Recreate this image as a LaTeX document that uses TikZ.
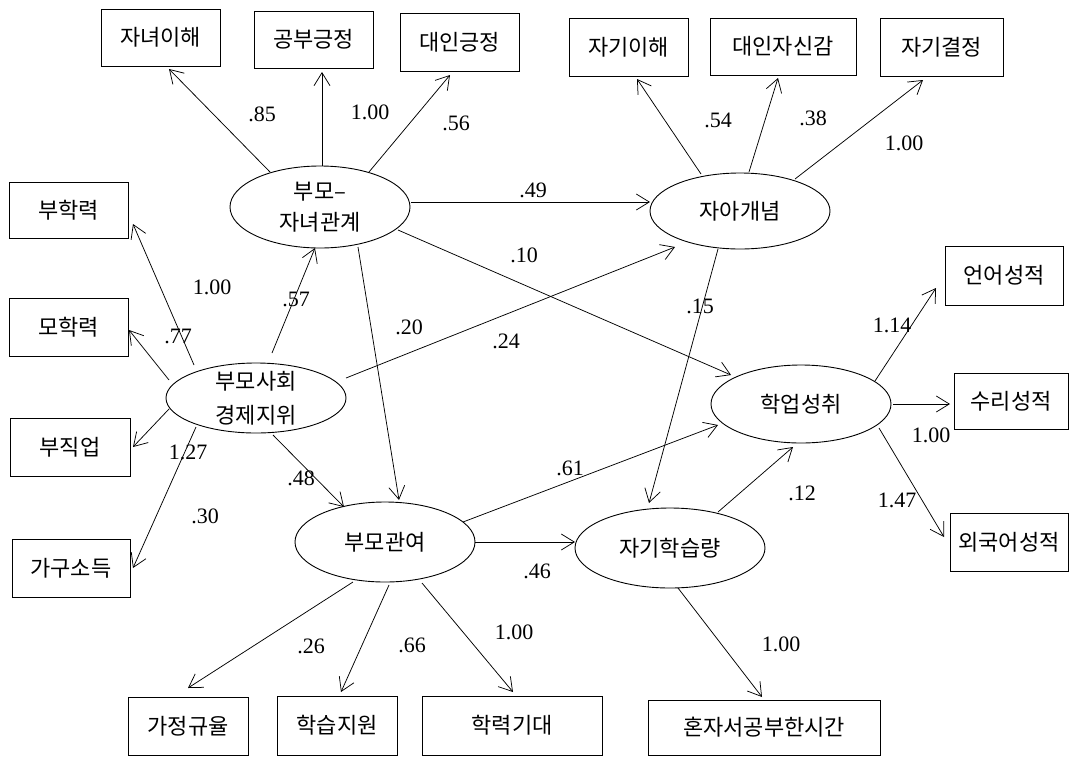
\documentclass[tikz,border=0pt]{standalone}
\usepackage{fontspec}
\setmainfont{Liberation Serif}
\newfontfamily\kr{Noto Sans CJK KR}
\usetikzlibrary{arrows.meta,shapes.geometric,calc}
\begin{document}
\begin{tikzpicture}[x=1pt,y=-1pt,
  box/.style={draw, line width=1pt, rectangle, inner sep=0pt, font=\kr\fontsize{22}{26}\selectfont},
  lat/.style={draw, line width=0.9pt, ellipse, inner sep=-7pt, font=\kr\fontsize{22}{31}\selectfont, align=center},
  arr/.style={line width=0.75pt, -{Straight Barb[length=13pt,width=16pt]}},
  coef/.style={font=\fontsize{22}{25}\selectfont, inner sep=0pt}]
\fill[white] (0,0) rectangle (1069,756);
\useasboundingbox (0,0) rectangle (1069,756);

% indicator boxes
\node[box, minimum width=119, minimum height=57] (b1) at (160.5,37.5) {자녀이해};
\node[box, minimum width=119, minimum height=57] (b2) at (313.5,39.5) {공부긍정};
\node[box, minimum width=119, minimum height=58] (b3) at (459.5,42) {대인긍정};
\node[box, minimum width=119, minimum height=58] (b4) at (628.5,47) {자기이해};
\node[box, minimum width=146, minimum height=57] (b5) at (783,46.5) {대인자신감};
\node[box, minimum width=123, minimum height=58] (b6) at (941.5,47) {자기결정};
\node[box, minimum width=119, minimum height=56] (b7) at (68.5,210) {부학력};
\node[box, minimum width=119, minimum height=58] (b8) at (68.5,327) {모학력};
\node[box, minimum width=120, minimum height=58] (b9) at (70,447) {부직업};
\node[box, minimum width=118, minimum height=58] (b10) at (71,568) {가구소득};
\node[box, minimum width=120, minimum height=58] (b11) at (188,726) {가정규율};
\node[box, minimum width=120, minimum height=59] (b12) at (337,725.5) {학습지원};
\node[box, minimum width=180, minimum height=59] (b13) at (512,725.5) {학력기대};
\node[box, minimum width=232, minimum height=55] (b14) at (764,727.5) {혼자서공부한시간};
\node[box, minimum width=118, minimum height=58] (b15) at (1009,542) {외국어성적};
\node[box, minimum width=114, minimum height=56] (b16) at (1011,401) {수리성적};
\node[box, minimum width=118, minimum height=59] (b17) at (1004,275.5) {언어성적};

% latent ellipses
\node[lat, minimum width=180, minimum height=82] (e1) at (320,207) {부모–\\자녀관계};
\node[lat, minimum width=180, minimum height=76] (e2) at (740,211) {자아개념};
\node[lat, minimum width=180, minimum height=70, font=\kr\fontsize{22}{34}\selectfont] (e3) at (256,398) {부모사회\\경제지위};
\node[lat, minimum width=180, minimum height=78] (e4) at (801,404) {학업성취};
\node[lat, minimum width=180, minimum height=80] (e5) at (385,542) {부모관여};
\node[lat, minimum width=190, minimum height=80] (e6) at (670,548) {자기학습량};

% connectors
\draw[arr] ([shift={(-50,-35)}]e1.center) -- ([shift={(8.5,31.5)}]b1.center);
\draw[arr] ([shift={(2,-41)}]e1.center) -- ([shift={(8.5,32.5)}]b2.center);
\draw[arr] ([shift={(49,-35)}]e1.center) -- ([shift={(-9.5,33)}]b3.center);
\draw[arr] ([shift={(-39,-37)}]e2.center) -- ([shift={(8.5,32)}]b4.center);
\draw[arr] ([shift={(9,-39)}]e2.center) -- ([shift={(-5,31.5)}]b5.center);
\draw[arr] ([shift={(55,-32)}]e2.center) -- ([shift={(-18.5,33)}]b6.center);
\draw[arr] ([shift={(91,-5)}]e1.center) -- ([shift={(-90,-9)}]e2.center);
\draw[arr] ([shift={(78,23)}]e1.center) -- ([shift={(-70,-29)}]e4.center);
\draw[arr] ([shift={(38,40)}]e1.center) -- ([shift={(14,-42)}]e5.center);
\draw[arr] ([shift={(16,-45)}]e3.center) -- ([shift={(-5,41)}]e1.center);
\draw[arr] ([shift={(-62,-33)}]e3.center) -- ([shift={(64.5,14)}]b7.center);
\draw[arr] ([shift={(-87,-18)}]e3.center) -- ([shift={(60.5,3)}]b8.center);
\draw[arr] ([shift={(-87,11)}]e3.center) -- ([shift={(63,0)}]b9.center);
\draw[arr] ([shift={(-60,29)}]e3.center) -- ([shift={(62,0)}]b10.center);
\draw[arr] ([shift={(90,-20)}]e3.center) -- ([shift={(-65,36)}]e2.center);
\draw[arr] ([shift={(17,37)}]e3.center) -- ([shift={(-41,-35)}]e5.center);
\draw[arr] ([shift={(78,-20)}]e5.center) -- ([shift={(-83,21)}]e4.center);
\draw[arr] ([shift={(90,0)}]e5.center) -- ([shift={(-95,-6)}]e6.center);
\draw[arr] ([shift={(-22,38)}]e2.center) -- ([shift={(-21,-45)}]e6.center);
\draw[arr] ([shift={(48,-36)}]e6.center) -- ([shift={(-8,43)}]e4.center);
\draw[arr] ([shift={(74,-23)}]e4.center) -- ([shift={(-68,12.5)}]b17.center);
\draw[arr] ([shift={(92,0)}]e4.center) -- ([shift={(-61,3)}]b16.center);
\draw[arr] ([shift={(78,24)}]e4.center) -- ([shift={(-65,-5)}]b15.center);
\draw[arr] ([shift={(-32,40)}]e5.center) -- ([shift={(0,-38)}]b11.center);
\draw[arr] ([shift={(4,43)}]e5.center) -- ([shift={(4,-33.5)}]b12.center);
\draw[arr] ([shift={(37,41)}]e5.center) -- ([shift={(1,-33.5)}]b13.center);
\draw[arr] ([shift={(8,40)}]e6.center) -- ([shift={(-2,-30.5)}]b14.center);

% coefficients
\node[coef] (c1) at (262,114) {.85};
\node[coef] (c2) at (370,112) {1.00};
\node[coef] (c3) at (456,123) {.56};
\node[coef] (c4) at (718,120) {.54};
\node[coef] (c5) at (813,118) {.38};
\node[coef] (c6) at (904,143) {1.00};
\node[coef] (c7) at (533,190) {.49};
\node[coef] (c8) at (524,255) {.10};
\node[coef] (c9) at (212,287) {1.00};
\node[coef] (c10) at (296,299) {.57};
\node[coef] (c11) at (178,336) {.77};
\node[coef] (c12) at (409,327) {.20};
\node[coef] (c13) at (506,341) {.24};
\node[coef] (c14) at (188,452) {1.27};
\node[coef] (c15) at (301,478) {.48};
\node[coef] (c16) at (205,516) {.30};
\node[coef] (c17) at (700,306) {.15};
\node[coef] (c18) at (892,325) {1.14};
\node[coef] (c19) at (931,435) {1.00};
\node[coef] (c20) at (570,468) {.61};
\node[coef] (c21) at (802,493) {.12};
\node[coef] (c22) at (897,500) {1.47};
\node[coef] (c23) at (537,571) {.46};
\node[coef] (c24) at (311,646) {.26};
\node[coef] (c25) at (412,645) {.66};
\node[coef] (c26) at (514,632) {1.00};
\node[coef] (c27) at (781,644) {1.00};
\end{tikzpicture}
\end{document}
